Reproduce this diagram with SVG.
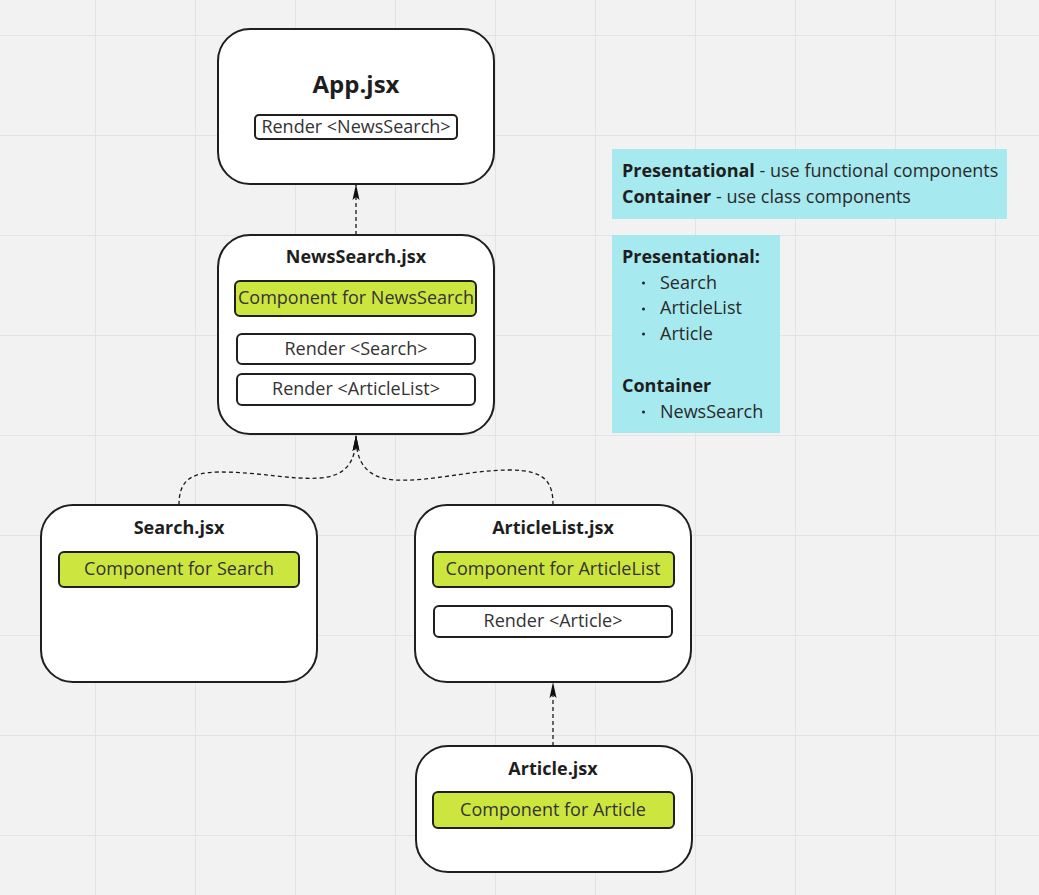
<svg xmlns="http://www.w3.org/2000/svg" width="1039" height="895" viewBox="0 0 1039 895">
<defs>
<style>
.node{fill:#fff;stroke:#1f1f1f;stroke-width:2}
.green{fill:#cde63f;stroke:#1f1f1f;stroke-width:2}
.inner{fill:#fff;stroke:#1f1f1f;stroke-width:2}
.title{font-family:"Open Sans","Noto Sans",sans-serif;font-weight:700;fill:#1e1e1e;text-anchor:middle}
.lbl{font-family:"Open Sans","Noto Sans",sans-serif;font-size:18px;fill:#333;text-anchor:middle}
.conn{fill:none;stroke:#1a1a1a;stroke-width:1.3;stroke-dasharray:4 3}
.sticky{fill:#a6e9ef}
.st{font-family:"Open Sans","Noto Sans",sans-serif;font-size:18px;fill:#2a2a2a}
.b{font-weight:700;fill:#1e1e1e}
.grid{stroke:#e3e3e3;stroke-width:1}
</style>
<marker id="arr" viewBox="0 0 16 10" refX="15" refY="5" markerWidth="16" markerHeight="10" markerUnits="userSpaceOnUse" orient="auto">
<path d="M0,1.5 L16,5 L0,8.5 L3,5 Z" fill="#111"/>
</marker>
</defs>
<rect width="1039" height="895" fill="#f2f2f2"/>
<path class="grid" d="M95.5,0V895M195.5,0V895M295.5,0V895M395.5,0V895M495.5,0V895M595.5,0V895M695.5,0V895M795.5,0V895M895.5,0V895M995.5,0V895M0,35.5H1039M0,135.5H1039M0,235.5H1039M0,335.5H1039M0,435.5H1039M0,535.5H1039M0,635.5H1039M0,735.5H1039M0,835.5H1039"/>

<g id="connectors">
<path class="conn" d="M356,235 V185" marker-end="url(#arr)"/>
<path class="conn" d="M179,505 C179,483 188,472 220,472 C260,472 290,480 320,478 C346,476 356,462 356,436" marker-end="url(#arr)"/>
<path class="conn" d="M553,505 C553,483 546,470 510,470 C470,470 430,482 395,480 C366,478 356,462 356,436" marker-end="url(#arr)"/>
<path class="conn" d="M553,746 V683" marker-end="url(#arr)"/>
</g>

<g id="app">
<rect class="node" x="218" y="29" width="276" height="155" rx="32"/>
<text class="title" x="356" y="93" font-size="24">App.jsx</text>
<rect class="inner" x="255" y="115" width="202" height="24" rx="4"/>
<text class="lbl" x="356" y="133">Render &lt;NewsSearch&gt;</text>
</g>

<g id="newssearch">
<rect class="node" x="218" y="235" width="276" height="199" rx="32"/>
<text class="title" x="356" y="263" font-size="18">NewsSearch.jsx</text>
<rect class="green" x="235" y="281" width="241" height="35" rx="5"/>
<text class="lbl" x="356" y="304" font-size="19">Component for NewsSearch</text>
<rect class="inner" x="237" y="334" width="238" height="30" rx="5"/>
<text class="lbl" x="356" y="355">Render &lt;Search&gt;</text>
<rect class="inner" x="237" y="374" width="238" height="31" rx="5"/>
<text class="lbl" x="356" y="395">Render &lt;ArticleList&gt;</text>
</g>

<g id="search">
<rect class="node" x="41" y="505" width="276" height="177" rx="32"/>
<text class="title" x="179" y="534" font-size="18">Search.jsx</text>
<rect class="green" x="59" y="552" width="240" height="35" rx="5"/>
<text class="lbl" x="179" y="575" font-size="19">Component for Search</text>
</g>

<g id="articlelist">
<rect class="node" x="415" y="505" width="276" height="177" rx="32"/>
<text class="title" x="553" y="534" font-size="18">ArticleList.jsx</text>
<rect class="green" x="433" y="552" width="241" height="35" rx="5"/>
<text class="lbl" x="553" y="575" font-size="19">Component for ArticleList</text>
<rect class="inner" x="434" y="606" width="238" height="31" rx="5"/>
<text class="lbl" x="553" y="627">Render &lt;Article&gt;</text>
</g>

<g id="article">
<rect class="node" x="416" y="746" width="276" height="126" rx="32"/>
<text class="title" x="553" y="775" font-size="18">Article.jsx</text>
<rect class="green" x="433" y="792" width="241" height="36" rx="5"/>
<text class="lbl" x="553" y="816" font-size="19">Component for Article</text>
</g>

<g id="note1">
<rect class="sticky" x="612" y="149" width="395" height="70"/>
<text class="st" x="622" y="177"><tspan class="b">Presentational</tspan> - use functional components</text>
<text class="st" x="622" y="203"><tspan class="b">Container</tspan> - use class components</text>
</g>

<g id="note2">
<rect class="sticky" x="612" y="235" width="168" height="198"/>
<text class="st b" x="622" y="263">Presentational:</text>
<circle cx="643.5" cy="283" r="1.5" fill="#222"/>
<text class="st" x="660" y="289">Search</text>
<circle cx="643.5" cy="309" r="1.5" fill="#222"/>
<text class="st" x="660" y="314">ArticleList</text>
<circle cx="643.5" cy="334" r="1.5" fill="#222"/>
<text class="st" x="660" y="340">Article</text>
<text class="st b" x="622" y="392">Container</text>
<circle cx="643.5" cy="412" r="1.5" fill="#222"/>
<text class="st" x="660" y="418">NewsSearch</text>
</g>
</svg>
